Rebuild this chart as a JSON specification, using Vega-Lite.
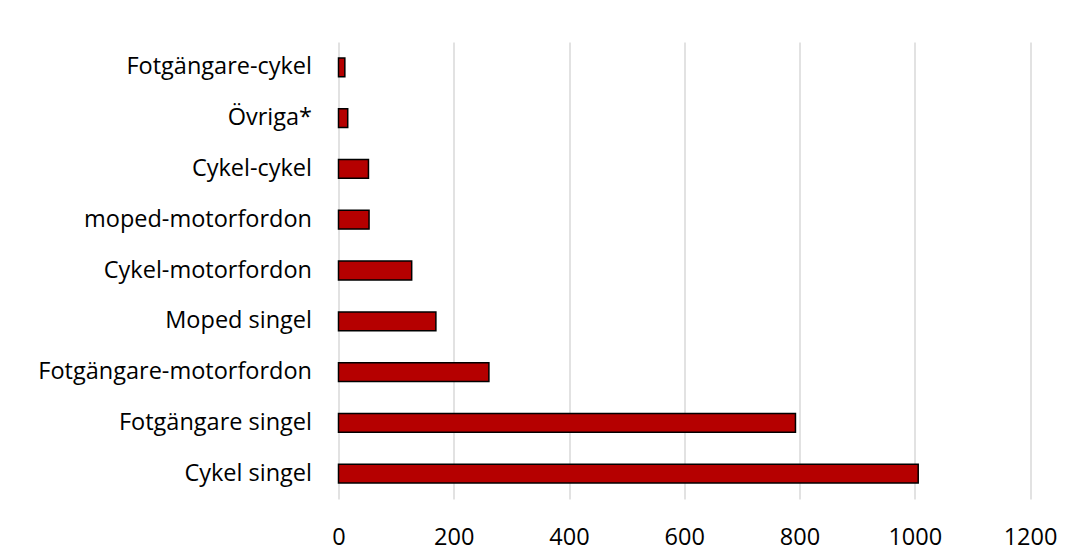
{
  "$schema": "https://vega.github.io/schema/vega-lite/v6.json",
  "autosize": {"type": "none"},
  "padding": {"left": 338.5, "top": 42, "right": 42, "bottom": 61},
  "width": 691.5,
  "height": 457,
  "background": "white",
  "config": {
    "view": {"stroke": null},
    "font": "Open Sans",
    "axis": {"labelFont": "Open Sans", "labelColor": "#000000", "labelFontSize": 23.5}
  },
  "data": {
    "values": [
      {"category": "Fotgängare-cykel", "value": 11},
      {"category": "Övriga*", "value": 16},
      {"category": "Cykel-cykel", "value": 52},
      {"category": "moped-motorfordon", "value": 53},
      {"category": "Cykel-motorfordon", "value": 127},
      {"category": "Moped singel", "value": 169},
      {"category": "Fotgängare-motorfordon", "value": 261},
      {"category": "Fotgängare singel", "value": 793},
      {"category": "Cykel singel", "value": 1006}
    ]
  },
  "mark": {"type": "bar", "fill": "#B50000", "stroke": "#000000", "strokeWidth": 1.5},
  "encoding": {
    "y": {
      "field": "category",
      "type": "nominal",
      "sort": null,
      "title": null,
      "scale": {"paddingInner": 0.63, "paddingOuter": 0.315},
      "axis": {"domain": false, "ticks": false, "labelPadding": 27, "labelLimit": 0, "grid": false}
    },
    "x": {
      "field": "value",
      "type": "quantitative",
      "title": null,
      "scale": {"domain": [0, 1200], "nice": false},
      "axis": {
        "values": [0, 200, 400, 600, 800, 1000, 1200],
        "format": "d",
        "domain": false,
        "ticks": false,
        "grid": true,
        "gridColor": "#D9D9D9",
        "gridWidth": 1.5,
        "labelPadding": 26,
        "labelFlush": false
      }
    }
  }
}
